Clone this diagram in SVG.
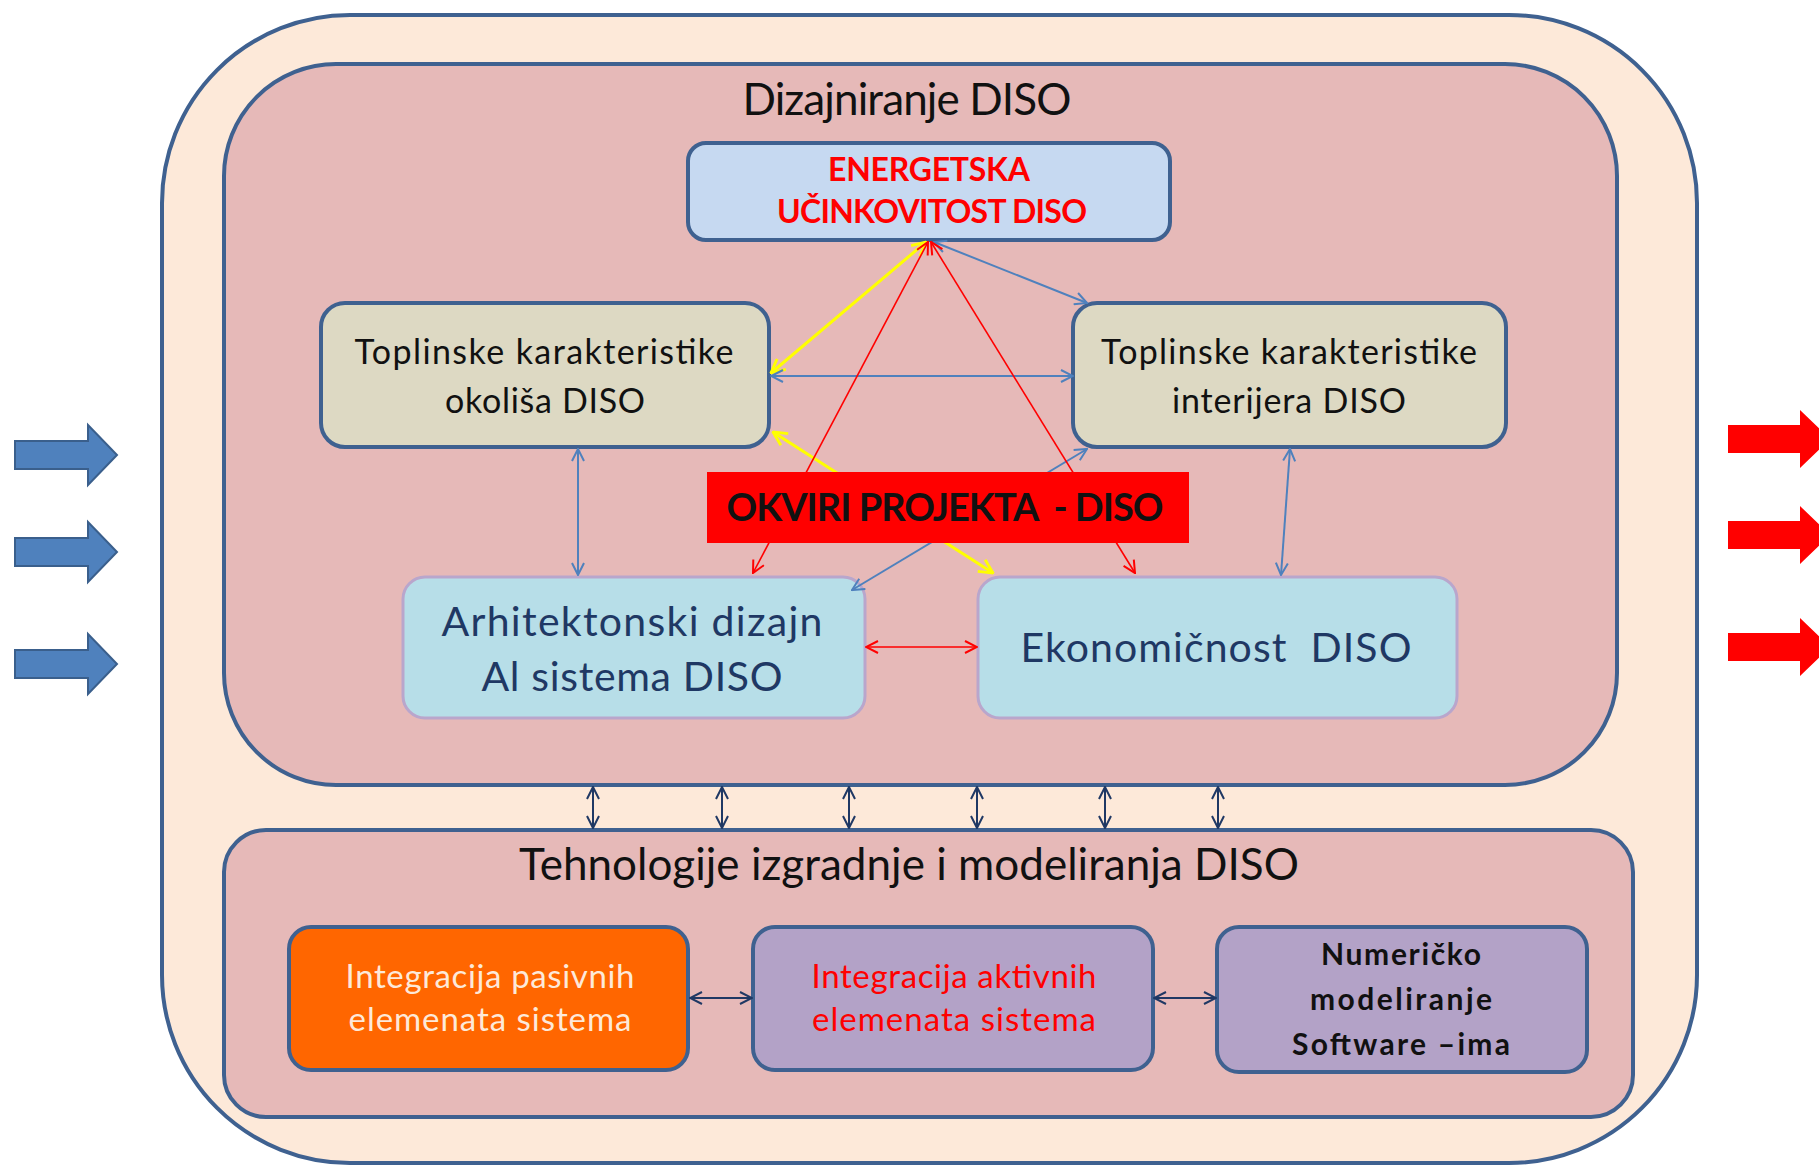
<svg xmlns="http://www.w3.org/2000/svg" width="1819" height="1165" viewBox="0 0 1819 1165">
<style>
text{font-family:Lato,"Open Sans","Liberation Sans",sans-serif;text-anchor:middle}
.frame{stroke:#3f6190;stroke-width:4}
.title{font-size:44px;fill:#111}
.tbox{fill:#ddd9c3;stroke:#3f6190;stroke-width:4}
.tt{font-size:34px;fill:#111}
.lb{fill:#b7dee8;stroke:#b9a6cc;stroke-width:3}
.lt{font-size:41px;fill:#1f3864}
.pb{fill:#b3a2c7;stroke:#3f6190;stroke-width:4}
.bt{font-size:33px}
.c{fill:none}
.cb{stroke:#4f81bd;stroke-width:2}
.cy{stroke:#ffff00;stroke-width:3}
.cr{stroke:#ff0000;stroke-width:1.6}
.cn{stroke:#1f3864;stroke-width:2}
</style>
<defs>
<marker id="mb" viewBox="0 0 14 14" refX="13" refY="7" markerWidth="14" markerHeight="14" markerUnits="userSpaceOnUse" orient="auto-start-reverse"><path d="M1,1 L13,7 L1,13" fill="none" stroke="#4f81bd" stroke-width="2"/></marker>
<marker id="my" viewBox="0 0 14 14" refX="13" refY="7" markerWidth="16" markerHeight="16" markerUnits="userSpaceOnUse" orient="auto-start-reverse"><path d="M1,1 L13,7 L1,13" fill="none" stroke="#ffff00" stroke-width="2.5"/></marker>
<marker id="mr" viewBox="0 0 14 14" refX="13" refY="7" markerWidth="14" markerHeight="14" markerUnits="userSpaceOnUse" orient="auto-start-reverse"><path d="M1,1 L13,7 L1,13" fill="none" stroke="#ff0000" stroke-width="2"/></marker>
<marker id="mn" viewBox="0 0 14 14" refX="13" refY="7" markerWidth="14" markerHeight="14" markerUnits="userSpaceOnUse" orient="auto-start-reverse"><path d="M1,1 L13,7 L1,13" fill="none" stroke="#1f3864" stroke-width="2"/></marker>
</defs>
<rect width="1819" height="1165" fill="#ffffff"/>

<g id="outer"><rect x="162" y="15" width="1535" height="1148" rx="188" ry="188" fill="#fde9d9" class="frame"/></g>

<g id="dizajniranje">
<rect x="224" y="64" width="1393" height="721" rx="112" ry="112" fill="#e6b9b8" class="frame"/>
<text x="907" y="115" class="title" textLength="329">Dizajniranje DISO</text>
</g>

<g id="tehnologije">
<rect x="224" y="830" width="1409" height="287" rx="42" ry="42" fill="#e6b9b8" class="frame"/>
<text x="909" y="880" class="title" textLength="780">Tehnologije izgradnje i modeliranja DISO</text>
</g>

<g id="in-arrows" fill="#4f81bd" stroke="#3a5f8c" stroke-width="2">
<polygon points="15,441 88,441 88,425 117,455 88,485 88,469 15,469"/>
<polygon points="15,538 88,538 88,522 117,552 88,582 88,566 15,566"/>
<polygon points="15,650 88,650 88,634 117,664 88,694 88,678 15,678"/>
</g>
<g id="out-arrows" fill="#ff0000">
<polygon points="1728,425 1800,425 1800,410 1830,439 1800,468 1800,453 1728,453"/>
<polygon points="1728,521 1800,521 1800,506 1830,535 1800,564 1800,549 1728,549"/>
<polygon points="1728,633 1800,633 1800,618 1830,647 1800,676 1800,661 1728,661"/>
</g>

<g id="energetska">
<rect x="688" y="143" width="482" height="97" rx="18" ry="18" fill="#c6d9f1" stroke="#3f6190" stroke-width="4"/>
<text x="929" y="181" font-size="32" font-weight="bold" fill="#ff0000" textLength="202">ENERGETSKA</text>
<text x="932" y="223" font-size="32" font-weight="bold" fill="#ff0000" textLength="310">UČINKOVITOST DISO</text>
</g>

<g id="okolis">
<rect x="321" y="303" width="448" height="144" rx="24" ry="24" class="tbox"/>
<text x="544" y="364" class="tt" textLength="379">Toplinske karakteristike</text>
<text x="545" y="413" class="tt" textLength="200">okoliša DISO</text>
</g>

<g id="interijer">
<rect x="1073" y="303" width="433" height="144" rx="24" ry="24" class="tbox"/>
<text x="1289" y="364" class="tt" textLength="376">Toplinske karakteristike</text>
<text x="1289" y="413" class="tt" textLength="234">interijera DISO</text>
</g>

<g id="arhitektonski">
<rect x="403" y="577" width="462" height="141" rx="22" ry="22" class="lb"/>
<text x="632" y="636" class="lt" textLength="381">Arhitektonski dizajn</text>
<text x="632" y="691" class="lt" textLength="301">Al sistema DISO</text>
</g>

<g id="ekonomicnost">
<rect x="978" y="577" width="479" height="141" rx="22" ry="22" class="lb"/>
<text x="1216" y="662" class="lt" textLength="391">Ekonomičnost&#160; DISO</text>
</g>

<g id="pasivni">
<rect x="289" y="927" width="399" height="143" rx="22" ry="22" fill="#ff6600" stroke="#3f6190" stroke-width="4"/>
<text x="490" y="988" class="bt" fill="#fde9d9" textLength="289">Integracija pasivnih</text>
<text x="490" y="1031" class="bt" fill="#fde9d9" textLength="283">elemenata sistema</text>
</g>

<g id="aktivni">
<rect x="753" y="927" width="400" height="143" rx="22" ry="22" class="pb"/>
<text x="954" y="988" class="bt" fill="#ff0000" textLength="285">Integracija aktivnih</text>
<text x="954" y="1031" class="bt" fill="#ff0000" textLength="284">elemenata sistema</text>
</g>

<g id="numericko">
<rect x="1217" y="927" width="370" height="145" rx="22" ry="22" class="pb"/>
<text x="1401" y="965" font-size="30" font-weight="bold" fill="#111" textLength="160">Numeričko</text>
<text x="1401" y="1010" font-size="30" font-weight="bold" fill="#111" textLength="182">modeliranje</text>
<text x="1401" y="1055" font-size="30" font-weight="bold" fill="#111" textLength="218">Software –ima</text>
</g>

<g id="connectors" class="c">
<line x1="926" y1="242" x2="771" y2="373" class="cy" marker-start="url(#my)" marker-end="url(#my)"/>
<line x1="773" y1="432" x2="993" y2="573" class="cy" marker-start="url(#my)" marker-end="url(#my)"/>
<line x1="934" y1="242" x2="1087" y2="303" class="cb" marker-start="url(#mb)" marker-end="url(#mb)"/>
<line x1="771" y1="376" x2="1073" y2="376" class="cb" marker-start="url(#mb)" marker-end="url(#mb)"/>
<line x1="1087" y1="449" x2="852" y2="590" class="cb" marker-start="url(#mb)" marker-end="url(#mb)"/>
<line x1="928" y1="242" x2="753" y2="573" class="cr" marker-start="url(#mr)" marker-end="url(#mr)"/>
<line x1="931" y1="242" x2="1135" y2="573" class="cr" marker-start="url(#mr)" marker-end="url(#mr)"/>
<line x1="578" y1="449" x2="578" y2="575" class="cb" marker-start="url(#mb)" marker-end="url(#mb)"/>
<line x1="1290" y1="449" x2="1281" y2="575" class="cb" marker-start="url(#mb)" marker-end="url(#mb)"/>
<line x1="866" y1="647" x2="977" y2="647" class="cr" marker-start="url(#mr)" marker-end="url(#mr)"/>
<line x1="593" y1="787" x2="593" y2="828" class="cn" marker-start="url(#mn)" marker-end="url(#mn)"/>
<line x1="722" y1="787" x2="722" y2="828" class="cn" marker-start="url(#mn)" marker-end="url(#mn)"/>
<line x1="849" y1="787" x2="849" y2="828" class="cn" marker-start="url(#mn)" marker-end="url(#mn)"/>
<line x1="977" y1="787" x2="977" y2="828" class="cn" marker-start="url(#mn)" marker-end="url(#mn)"/>
<line x1="1105" y1="787" x2="1105" y2="828" class="cn" marker-start="url(#mn)" marker-end="url(#mn)"/>
<line x1="1218" y1="787" x2="1218" y2="828" class="cn" marker-start="url(#mn)" marker-end="url(#mn)"/>
<line x1="690" y1="998" x2="752" y2="998" class="cn" marker-start="url(#mn)" marker-end="url(#mn)"/>
<line x1="1154" y1="998" x2="1216" y2="998" class="cn" marker-start="url(#mn)" marker-end="url(#mn)"/>
</g>

<g id="okviri">
<rect x="707" y="472" width="482" height="71" fill="#ff0000"/>
<text x="945" y="521" font-size="38" font-weight="bold" fill="#111" textLength="437">OKVIRI PROJEKTA&#160; - DISO</text>
</g>
</svg>
